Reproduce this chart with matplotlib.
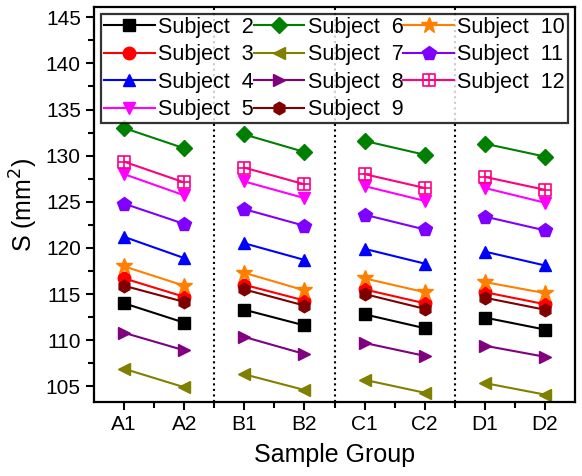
import matplotlib.pyplot as plt
from matplotlib.path import Path

plt.rcParams['font.family'] = ['Liberation Sans', 'DejaVu Sans']

groups = ['A1', 'A2', 'B1', 'B2', 'C1', 'C2', 'D1', 'D2']
subjects = ['Subject  2', 'Subject  3', 'Subject  4', 'Subject  5',
            'Subject  6', 'Subject  7', 'Subject  8', 'Subject  9',
            'Subject  10', 'Subject  11', 'Subject  12']

s2 = [114.0, 111.9, 113.3, 111.6, 112.8, 111.3, 112.45, 111.15]
s3 = [116.7, 114.7, 116.0, 114.3, 115.5, 114.0, 115.2, 113.9]
s4 = [121.2, 118.9, 120.5, 118.7, 119.9, 118.3, 119.6, 118.1]
s5 = [128.0, 125.7, 127.2, 125.4, 126.7, 125.1, 126.5, 124.9]
s6 = [133.0, 130.8, 132.3, 130.4, 131.6, 130.1, 131.3, 129.9]
s7 = [106.9, 104.9, 106.3, 104.6, 105.7, 104.3, 105.35, 104.1]
s8 = [110.8, 108.9, 110.35, 108.5, 109.7, 108.3, 109.4, 108.2]
s9 = [115.9, 114.15, 115.5, 113.75, 115.0, 113.4, 114.6, 113.3]
s10 = [118.0, 115.9, 117.3, 115.4, 116.7, 115.2, 116.3, 115.1]
s11 = [124.8, 122.6, 124.2, 122.4, 123.6, 122.0, 123.4, 121.9]
s12 = [129.35, 127.1, 128.7, 126.9, 128.0, 126.5, 127.7, 126.3]

values = [s2, s3, s4, s5, s6, s7, s8, s9, s10, s11, s12]
colors = ['black', 'red', 'blue', 'magenta', 'green', 'olive', 'purple',
          'maroon', '#FF8000', '#8000FF', '#FF0080']

# square with a cross inside, for subject 12
box_plus = Path(
    [(-1, -1), (1, -1), (1, 1), (-1, 1), (-1, -1),
     (0, -1), (0, 1), (-1, 0), (1, 0)],
    [Path.MOVETO, Path.LINETO, Path.LINETO, Path.LINETO, Path.CLOSEPOLY,
     Path.MOVETO, Path.LINETO, Path.MOVETO, Path.LINETO])
markers = ['s', 'o', '^', 'v', 'D', '<', '>', 'h', '*', 'p', box_plus]
sizes = [9, 9, 9, 9, 8, 9, 9, 9, 12, 10, 9]

xpos = [1, 3, 5, 7, 9, 11, 13, 15]

fig, ax = plt.subplots(figsize=(5.82, 4.76), dpi=100)
fig.subplots_adjust(left=0.1615, right=0.988, bottom=0.1555, top=0.985)

for name, ys, c, m, ms in zip(subjects, values, colors, markers, sizes):
    face = 'none' if m is box_plus else c
    for g in range(4):
        ax.plot(xpos[2 * g:2 * g + 2], ys[2 * g:2 * g + 2], color=c, lw=1.5,
                marker=m, ms=ms, mfc=face, mec=c, mew=1.2 if m is box_plus else 1,
                label=name if g == 0 else None)

for xs in [4, 8, 12]:
    ax.axvline(xs, color='black', ls=':', lw=1.5)

ax.set_xlim(0, 16)
ax.set_ylim(103.3, 146.1)
ax.set_xticks(xpos)
ax.set_xticklabels(groups)
ax.set_xticks([2, 4, 6, 8, 10, 12, 14], minor=True)
ax.set_yticks([105, 110, 115, 120, 125, 130, 135, 140, 145])
ax.set_yticks([107.5, 112.5, 117.5, 122.5, 127.5, 132.5, 137.5, 142.5], minor=True)
ax.tick_params(which='both', direction='out', width=1.5, labelsize=15)
ax.tick_params(which='major', length=6)
ax.tick_params(which='minor', length=4)
for sp in ax.spines.values():
    sp.set_linewidth(1.6)

ax.set_xlabel('Sample Group', fontsize=18, labelpad=6)
ax.set_ylabel('S (mm$^2$)', fontsize=18)

leg = ax.legend(ncol=3, loc='upper center', fontsize=15.5, frameon=True,
                fancybox=False, edgecolor='black', handlelength=2.35,
                handletextpad=0.15, columnspacing=0.0, labelspacing=0.3,
                borderpad=0.15, borderaxespad=0.3)
leg.get_frame().set_linewidth(1.6)

fig.savefig('out.png')
